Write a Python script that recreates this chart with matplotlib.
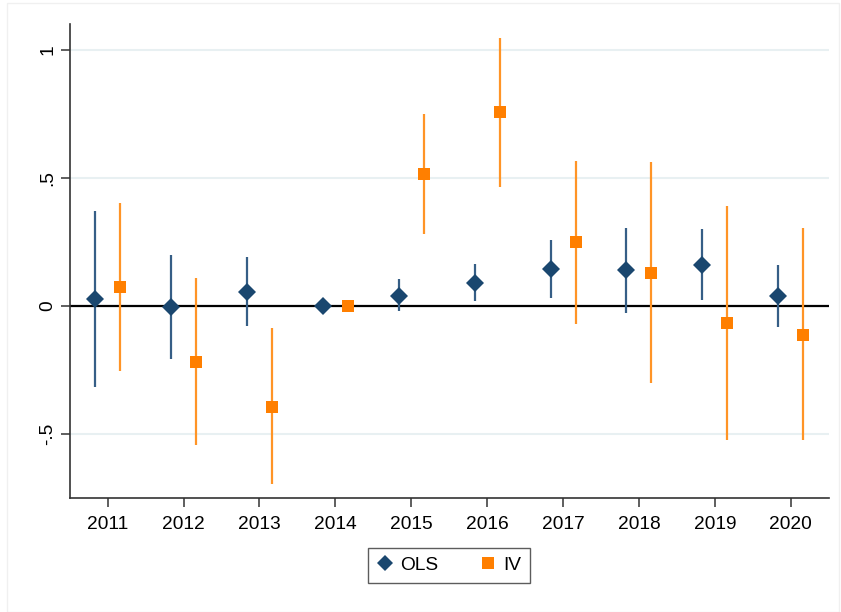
import matplotlib.pyplot as plt
import numpy as np
from matplotlib.lines import Line2D
from matplotlib.patches import Rectangle

plt.rcParams['font.family'] = ['Liberation Sans', 'DejaVu Sans']

# Datos
years = [2011, 2012, 2013, 2014, 2015, 2016, 2017, 2018, 2019, 2020]

ols_coef = [0.026, -0.003, 0.055, 0.0, 0.040, 0.091, 0.143, 0.139, 0.160, 0.039]
ols_lo = [-0.316, -0.207, -0.080, 0.0, -0.021, 0.020, 0.029, -0.027, 0.023, -0.082]
ols_hi = [0.370, 0.200, 0.191, 0.0, 0.104, 0.163, 0.258, 0.302, 0.299, 0.159]

iv_coef = [0.073, -0.218, -0.394, 0.0, 0.515, 0.756, 0.249, 0.130, -0.068, -0.112]
iv_lo = [-0.255, -0.545, -0.696, 0.0, 0.280, 0.463, -0.069, -0.303, -0.525, -0.525]
iv_hi = [0.403, 0.109, -0.088, 0.0, 0.747, 1.046, 0.565, 0.560, 0.390, 0.303]

ytick_vals = [-0.5, 0, 0.5, 1]
ytick_labels = ['-.5', '0', '.5', '1']

navy = '#1a476f'
orange = '#ff7f00'

fig = plt.figure(figsize=(8.41, 6.12), dpi=100)
ax = fig.add_axes([0.0829, 0.1863, 0.9025, 0.7745])

x = np.array(years, dtype=float)
off = 0.165

# gridlines claras
for yv in ytick_vals:
    ax.axhline(yv, color='#e8f0f2', linewidth=1.5, zorder=0)
ax.axhline(0, color='black', linewidth=1.6, zorder=1)

# intervalos de confianza
ols_mask = np.array(ols_hi) != np.array(ols_lo)
iv_mask = np.array(iv_hi) != np.array(iv_lo)
ax.vlines(x[ols_mask] - off, np.array(ols_lo)[ols_mask], np.array(ols_hi)[ols_mask],
          color='#365e86', linewidth=1.6, zorder=2)
ax.vlines(x[iv_mask] + off, np.array(iv_lo)[iv_mask], np.array(iv_hi)[iv_mask],
          color='#ff9426', linewidth=1.6, zorder=2)

ax.plot(x - off, ols_coef, linestyle='none', marker='D', markersize=8.8,
        color=navy, markeredgewidth=0, zorder=3)
ax.plot(x + off, iv_coef, linestyle='none', marker='s', markersize=8.8,
        color=orange, markeredgewidth=0, zorder=3)

ax.set_xlim(2010.5, 2020.5)
ax.set_ylim(-0.75, 1.1)
ax.set_xticks(years)
ax.set_xticklabels([str(y) for y in years], fontsize=13.8)
ax.set_yticks(ytick_vals)
ax.set_yticklabels(ytick_labels, fontsize=13.8, rotation=90, va='center')

for s in ['top', 'right']:
    ax.spines[s].set_visible(False)
for s in ['left', 'bottom']:
    ax.spines[s].set_color('#333333')
    ax.spines[s].set_linewidth(1.2)
ax.tick_params(axis='both', length=6.8, width=1.1, color='#333333', pad=6)
ax.tick_params(axis='y', pad=3)

handles = [
    Line2D([], [], linestyle='none', marker='D', markersize=8, color=navy, markeredgewidth=0),
    Line2D([], [], linestyle='none', marker='s', markersize=8.5, color=orange, markeredgewidth=0),
]
leg = fig.legend(handles, ['OLS', 'IV'], loc='center', bbox_to_anchor=(0.534, 0.076),
                 ncol=2, fontsize=13.8, frameon=True, fancybox=False,
                 handlelength=0.8, handletextpad=0.4, columnspacing=2.2,
                 borderpad=0.45)
leg.get_frame().set_edgecolor('#333333')
leg.get_frame().set_linewidth(1.0)

# marco tenue de la región
fig.patches.append(Rectangle((0.008, 0.0), 0.99, 0.995, transform=fig.transFigure,
                             fill=False, edgecolor='#f0f0f0', linewidth=1))

fig.savefig('out.png', dpi=100, facecolor='white')
